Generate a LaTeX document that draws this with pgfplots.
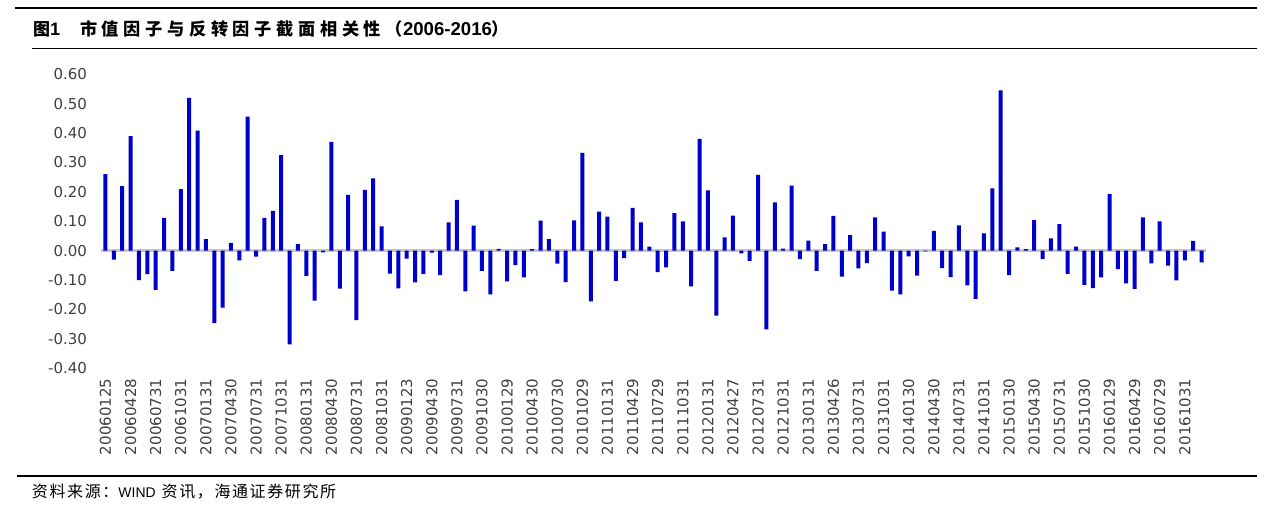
\documentclass[border=0pt]{standalone}
\usepackage{pgfplots}
\pgfplotsset{compat=1.18}
\usepackage{pgfplotstable}
\usepackage{fontspec}
\setmainfont{Liberation Sans}
\newfontfamily\tickfont{DejaVu Sans}
\newfontfamily\cjk{Noto Sans CJK SC}
\newfontfamily\latb{Liberation Sans Bold}
\definecolor{barblue}{HTML}{0000CC}
\definecolor{ticktext}{HTML}{404040}
\pgfplotstableread{
x y
0 0.26
1 -0.03
2 0.22
3 0.39
4 -0.10
5 -0.08
6 -0.133
7 0.112
8 -0.069
9 0.209
10 0.52
11 0.408
12 0.039
13 -0.246
14 -0.194
15 0.027
16 -0.033
17 0.456
18 -0.020
19 0.112
20 0.135
21 0.325
22 -0.319
23 0.022
24 -0.086
25 -0.17
26 -0.006
27 0.37
28 -0.129
29 0.19
30 -0.236
31 0.207
32 0.246
33 0.083
34 -0.078
35 -0.128
36 -0.027
37 -0.108
38 -0.08
39 -0.007
40 -0.083
41 0.096
42 0.173
43 -0.138
44 0.085
45 -0.069
46 -0.149
47 0.006
48 -0.104
49 -0.049
50 -0.091
51 0.005
52 0.102
53 0.039
54 -0.044
55 -0.107
56 0.103
57 0.333
58 -0.172
59 0.133
60 0.116
61 -0.103
62 -0.025
63 0.146
64 0.096
65 0.014
66 -0.073
67 -0.057
68 0.128
69 0.10
70 -0.121
71 0.38
72 0.205
73 -0.221
74 0.045
75 0.119
76 -0.009
77 -0.035
78 0.258
79 -0.268
80 0.164
81 0.007
82 0.221
83 -0.029
84 0.034
85 -0.069
86 0.022
87 0.118
88 -0.088
89 0.053
90 -0.06
91 -0.042
92 0.113
93 0.065
94 -0.136
95 -0.149
96 -0.019
97 -0.085
98 -0.002
99 0.067
100 -0.059
101 -0.09
102 0.086
103 -0.118
104 -0.164
105 0.059
106 0.212
107 0.545
108 -0.083
109 0.011
110 0.005
111 0.104
112 -0.029
113 0.042
114 0.09
115 -0.079
116 0.014
117 -0.116
118 -0.127
119 -0.091
120 0.192
121 -0.063
122 -0.111
123 -0.13
124 0.113
125 -0.043
126 0.10
127 -0.051
128 -0.101
129 -0.033
130 0.033
131 -0.040
}\datatable
\begin{document}
\begin{tikzpicture}[x=1pt,y=1pt]
\path[use as bounding box] (0,0) rectangle (636,256);
% header
\draw[line width=1pt] (7.5,251.75) -- (628.5,251.75);
\draw[line width=0.4pt] (16,232) -- (628.5,232);
\node[anchor=west, inner sep=0pt] at (16.3,241.5) {{\cjk\bfseries\fontsize{8.5}{9}\selectfont 图}{\latb\fontsize{9}{10}\selectfont 1}\hspace{10pt}{\cjk\bfseries\fontsize{8.6}{9}\selectfont\addfontfeature{LetterSpace=27}市值因子与反转因子截面相关性（}{\latb\fontsize{9.3}{10}\selectfont 2006-2016}{\cjk\bfseries\fontsize{8.6}{9}\selectfont ）}};
% footer
\draw[line width=0.9pt] (8.5,18) -- (628.5,18);
\node[anchor=west, inner sep=0pt] at (15.8,10) {{\cjk\fontsize{8}{8}\selectfont\addfontfeature{LetterSpace=10}资料来源：}{\fontsize{7}{8}\selectfont WIND\hspace{3pt}}{\cjk\fontsize{8}{8}\selectfont\addfontfeature{LetterSpace=10}资讯，海通证券研究所}};
\begin{axis}[
  at={(50.65pt,71.85pt)}, anchor=south west,
  scale only axis, width=552.2pt, height=147pt,
  xmin=-0.5, xmax=131.5, ymin=-0.4, ymax=0.6,
  axis line style={draw=none},
  major tick length=0pt,
  ytick={-0.4,-0.3,...,0.61},
  /pgf/number format/fixed,
  /pgf/number format/fixed zerofill,
  /pgf/number format/precision=2,
  /pgf/number format/assume math mode=true,
  yticklabel style={font=\tickfont\fontsize{7.5}{9}\selectfont, text=ticktext, inner sep=0pt},
  yticklabel shift=7pt,
  xtick={0,3,...,129},
  xticklabels={20060125,20060428,20060731,20061031,20070131,20070430,20070731,20071031,20080131,20080430,20080731,20081031,20090123,20090430,20090731,20091030,20100129,20100430,20100730,20101029,20110131,20110429,20110729,20111031,20120131,20120427,20120731,20121031,20130131,20130426,20130731,20131031,20140130,20140430,20140731,20141031,20150130,20150430,20150731,20151030,20160129,20160429,20160729,20161031},
  xticklabel style={font=\tickfont\fontsize{7.5}{9}\selectfont, text=ticktext, inner sep=0pt, rotate=90, anchor=east},
  xticklabel shift=5pt,
  clip=false,
]
\addplot[draw=black!22, line width=1.2pt, forget plot] coordinates {(-0.5,0) (131.5,0)};
\addplot[ybar, bar width=2pt, fill=barblue, draw=none] table[x=x,y=y] {\datatable};
\end{axis}
\end{tikzpicture}
\end{document}
